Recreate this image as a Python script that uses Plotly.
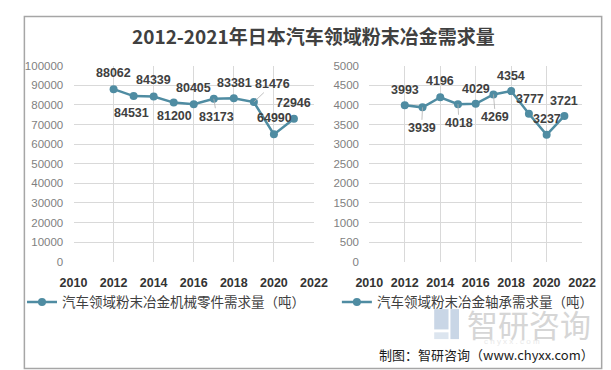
import plotly.graph_objects as go

# ---- data ----
years = [2012, 2013, 2014, 2015, 2016, 2017, 2018, 2019, 2020, 2021]
parts_demand = [88062, 84531, 84339, 81200, 80405, 83173, 83381, 81476, 64990, 72946]
bearing_demand = [3993, 3939, 4196, 4018, 4029, 4269, 4354, 3777, 3237, 3721]
series1_name = "汽车领域粉末冶金机械零件需求量（吨）"
series2_name = "汽车领域粉末冶金轴承需求量（吨）"
title_text = "2012-2021年日本汽车领域粉末冶金需求量"
x_ticks = [2010, 2012, 2014, 2016, 2018, 2020, 2022]

# ---- styling / label offsets (pixels) ----
LINE = "#4f8ca2"
GRID = "#d9d9d9"
left_offsets = [(0, -16), (-2, 17), (0, -16), (1, 13), (0, -16), (3, 18), (1, -15), (19, -18), (1, -16), (0, -16)]
left_leader = [False, False, False, False, False, True, False, True, False, False]
right_offsets = [(0, -15), (-1, 21), (0, -16), (1, 19), (0, -15), (2, 23), (0, -15), (1, -15), (0, -16), (0, -15)]
right_leader = [False, True, False, True, False, True, False, False, False, False]

fig = go.Figure()
fig.add_trace(go.Scatter(x=years, y=parts_demand, mode="lines+markers", name=series1_name,
                         line=dict(color=LINE, width=2.5), marker=dict(size=8, color=LINE),
                         xaxis="x", yaxis="y", legend="legend"))
fig.add_trace(go.Scatter(x=years, y=bearing_demand, mode="lines+markers", name=series2_name,
                         line=dict(color=LINE, width=2.5), marker=dict(size=8, color=LINE),
                         xaxis="x2", yaxis="y2", legend="legend2"))

lab_font = dict(family="Liberation Sans, Arial", size=12.5, color="#404040", weight="bold")
anns = []
for xv, yv, (ox, oy), ld in zip(years, parts_demand, left_offsets, left_leader):
    anns.append(dict(x=xv, y=yv, xref="x", yref="y", text=str(yv), showarrow=True,
                     ax=ox, ay=oy, arrowhead=0, arrowwidth=0.8,
                     arrowcolor="#b0b0b0" if ld else "rgba(0,0,0,0)", font=lab_font))
for xv, yv, (ox, oy), ld in zip(years, bearing_demand, right_offsets, right_leader):
    anns.append(dict(x=xv, y=yv, xref="x2", yref="y2", text=str(yv), showarrow=True,
                     ax=ox, ay=oy, arrowhead=0, arrowwidth=0.8,
                     arrowcolor="#b0b0b0" if ld else "rgba(0,0,0,0)", font=lab_font))

# title
anns.append(dict(x=0.5, y=1 - 22 / 370, xref="paper", yref="paper", text=title_text, showarrow=False,
                 xanchor="center", yanchor="middle",
                 font=dict(family="Noto Sans CJK SC", size=19, color="#404040", weight="bold")))
# watermark
anns.append(dict(x=464 / 611, y=1 - 320 / 370, xref="paper", yref="paper", text="智研咨询", showarrow=False,
                 xanchor="left", yanchor="middle",
                 font=dict(family="Noto Sans CJK SC", size=31, color="#d6d6d6")))
anns.append(dict(x=482 / 611, y=1 - 338 / 370, xref="paper", yref="paper", text="c h y x x . c o m",
                 showarrow=False, xanchor="left", yanchor="middle",
                 font=dict(family="Liberation Sans", size=8, color="#e8e8e8")))
# source
anns.append(dict(x=602 / 611, y=1 - 352 / 370, xref="paper", yref="paper", text="制图：智研咨询（www.chyxx.com）",
                 showarrow=False, xanchor="right", yanchor="middle",
                 font=dict(family="Noto Sans CJK SC", size=13, color="#1a1a1a")))

shapes = [
    dict(type="rect", xref="paper", yref="paper", x0=2.5 / 611, x1=607.5 / 611, y0=1 - 366.5 / 370, y1=1 - 2.5 / 370,
         line=dict(color="#a6a6a6", width=1.5), fillcolor="rgba(0,0,0,0)"),
    # logo icon
    dict(type="rect", xref="paper", yref="paper", x0=432 / 611, x1=447 / 611, y0=1 - 326 / 370, y1=1 - 305 / 370,
         line=dict(width=0), fillcolor="#c9d6e6"),
    dict(type="rect", xref="paper", yref="paper", x0=449 / 611, x1=458 / 611, y0=1 - 336 / 370, y1=1 - 305 / 370,
         line=dict(width=0), fillcolor="#c9d6e6"),
    dict(type="rect", xref="paper", yref="paper", x0=432 / 611, x1=447 / 611, y0=1 - 336 / 370, y1=1 - 329 / 370,
         line=dict(width=0), fillcolor="#dce5ef"),
]

xaxis_common = dict(range=[2010, 2022], tickvals=x_ticks, showgrid=True, gridcolor=GRID, gridwidth=1,
                    zeroline=False, showline=False, ticks="outside", ticklen=9, tickcolor="rgba(0,0,0,0)",
                    tickfont=dict(family="Liberation Sans, Arial", size=12.5, color="#333333", weight="bold"))
yaxis_common = dict(showgrid=True, gridcolor=GRID, gridwidth=1, zeroline=False, showline=False,
                    ticks="outside", ticklen=7, tickcolor="rgba(0,0,0,0)", tickformat="d",
                    tickfont=dict(family="Liberation Sans, Arial", size=11.5, color="#7f7f7f"))

fig.update_layout(
    width=611, height=370, margin=dict(l=0, r=0, t=0, b=0),
    paper_bgcolor="white", plot_bgcolor="white",
    xaxis=dict(domain=[54 / 611, 306 / 611], anchor="y", **xaxis_common),
    yaxis=dict(domain=[1 - 256 / 370, 1 - 53.5 / 370], anchor="x", range=[0, 100000], dtick=10000, **yaxis_common),
    xaxis2=dict(domain=[364 / 611, 587 / 611], anchor="y2", **xaxis_common),
    yaxis2=dict(domain=[1 - 256 / 370, 1 - 53.5 / 370], anchor="x2", range=[0, 5000], dtick=500, **yaxis_common),
    legend=dict(x=0, y=1 - 298 / 370, xanchor="left", yanchor="middle", bgcolor="rgba(0,0,0,0)",
                font=dict(family="Noto Sans CJK SC", size=13.5, color="#404040"), itemwidth=30),
    legend2=dict(x=330 / 611, y=1 - 298 / 370, xanchor="left", yanchor="middle", bgcolor="rgba(0,0,0,0)",
                 font=dict(family="Noto Sans CJK SC", size=13.5, color="#404040"), itemwidth=30),
    annotations=anns, shapes=shapes, showlegend=True,
)

fig.write_html("out.html")
